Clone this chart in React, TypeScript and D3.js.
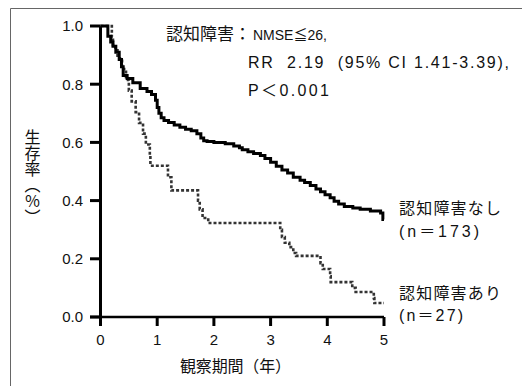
import React from 'react';
import * as d3 from 'd3';

// 認知障害なし (n=173): time of each step (years) and survival after it
const timeNone = [0, 0.13, 0.18, 0.22, 0.27, 0.33, 0.37, 0.4, 0.47, 0.57, 0.7, 0.82, 0.9, 0.97, 1.0, 1.03, 1.07, 1.12, 1.2, 1.3, 1.4, 1.5, 1.6, 1.7, 1.77, 1.82, 1.88, 2.0, 2.2, 2.35, 2.45, 2.5, 2.6, 2.7, 2.82, 2.9, 3.0, 3.1, 3.2, 3.3, 3.4, 3.52, 3.6, 3.7, 3.8, 3.88, 3.96, 4.05, 4.12, 4.2, 4.3, 4.45, 4.58, 4.76, 4.94, 4.98, 5.0];
const survNone = [1.0, 0.965, 0.945, 0.93, 0.91, 0.885, 0.86, 0.83, 0.82, 0.805, 0.785, 0.775, 0.765, 0.745, 0.72, 0.7, 0.685, 0.675, 0.668, 0.66, 0.652, 0.645, 0.64, 0.63, 0.615, 0.606, 0.603, 0.6, 0.595, 0.588, 0.582, 0.575, 0.568, 0.562, 0.555, 0.545, 0.532, 0.518, 0.505, 0.495, 0.48, 0.47, 0.462, 0.452, 0.44, 0.43, 0.42, 0.41, 0.398, 0.388, 0.38, 0.375, 0.37, 0.364, 0.357, 0.335, 0.335];

// 認知障害あり (n=27)
const timeImp = [0, 0.2, 0.22, 0.3, 0.38, 0.45, 0.5, 0.55, 0.62, 0.68, 0.75, 0.8, 0.87, 0.88, 1.19, 1.25, 1.72, 1.75, 1.8, 1.9, 3.17, 3.2, 3.25, 3.33, 3.4, 3.45, 3.88, 3.92, 4.05, 4.06, 4.44, 4.5, 4.82, 4.83, 5.0];
const survImp = [1.0, 0.963, 0.926, 0.889, 0.852, 0.815, 0.778, 0.741, 0.704, 0.667, 0.63, 0.593, 0.556, 0.52, 0.48, 0.435, 0.4, 0.37, 0.34, 0.323, 0.3, 0.275, 0.255, 0.24, 0.22, 0.21, 0.185, 0.165, 0.14, 0.12, 0.1, 0.086, 0.065, 0.048, 0.048];

const xTicks = [0, 1, 2, 3, 4, 5];
const yTicks = [0, 0.2, 0.4, 0.6, 0.8, 1.0];

const font = '"Liberation Sans", "Noto Sans CJK JP", sans-serif';

const App = () => {
	const x = d3.scaleLinear().domain([0, 5]).range([100.5, 384]);
	const y = d3.scaleLinear().domain([0, 1]).range([317, 26]);
	const line = d3.line<[number, number]>()
		.x((d) => x(d[0]))
		.y((d) => y(d[1]))
		.curve(d3.curveStepAfter);
	const none = line(timeNone.map((t, i) => [t, survNone[i]]));
	const imp = line(timeImp.map((t, i) => [t, survImp[i]]));

	return (
		<svg width={ 522 } height={ 386 } style={ { position: 'absolute', left: 0, top: 0, background: '#fff' } }
			fontFamily={ font } fill="#111">
			{/* frame */}
			<path d="M10.5,386 V8.5 H522" fill="none" stroke="#666" strokeWidth={ 1 }/>

			{/* axes */}
			<line x1={ x(0) } x2={ x(0) } y1={ y(1) } y2={ y(0) } stroke="#000" strokeWidth={ 3 }/>
			<line x1={ 90 } x2={ x(5) } y1={ y(0) } y2={ y(0) } stroke="#000" strokeWidth={ 2.5 }/>
			{ yTicks.map((v) => (
				<g key={ v }>
					<line x1={ 90 } x2={ x(0) } y1={ y(v) } y2={ y(v) } stroke="#000" strokeWidth={ 3 }/>
					<text x={ 83 } y={ y(v) } dy="0.36em" textAnchor="end" fontSize={ 15 }>{ v.toFixed(1) }</text>
				</g>
			)) }
			{ xTicks.map((t) => (
				<g key={ t }>
					<line x1={ x(t) } x2={ x(t) } y1={ y(0) } y2={ y(0) + 9 } stroke="#000" strokeWidth={ 3 }/>
					<text x={ x(t) } y={ 340 } dy="0.36em" textAnchor="middle" fontSize={ 15 }>{ t }</text>
				</g>
			)) }

			{/* curves */}
			<path d={ imp ?? '' } fill="none" stroke="#333" strokeWidth={ 2.6 } strokeDasharray="3 2"/>
			<path d={ none ?? '' } fill="none" stroke="#000" strokeWidth={ 3 }/>

			{/* annotation */}
			<text x={ 166 } y={ 34 } dy="0.36em" fontSize={ 17 }>
				<tspan>認知障害：</tspan>
				<tspan x={ 253 } fontSize={ 14 }>NMSE≦26,</tspan>
			</text>
			<text x={ 248 } y={ 62 } dy="0.36em" fontSize={ 16 } textLength={ 261 } lengthAdjust="spacing" style={ { whiteSpace: 'pre' } }>RR  2.19  (95% CI 1.41-3.39),</text>
			<text x={ 248 } y={ 90 } dy="0.36em" fontSize={ 16 } textLength={ 81 } lengthAdjust="spacing">P＜0.001</text>

			{/* y label, vertical */}
			<text x={ 31 } y={ 129 } fontSize={ 16 } style={ { writingMode: 'vertical-rl' } }>生存率（％）</text>

			{/* x label */}
			<text x={ 180 } y={ 366 } dy="0.36em" fontSize={ 16 } textLength={ 111 } lengthAdjust="spacing">観察期間（年）</text>

			{/* series labels */}
			<text x={ 399 } y={ 208 } dy="0.36em" fontSize={ 16 } textLength={ 102 } lengthAdjust="spacing">認知障害なし</text>
			<text x={ 399 } y={ 231 } dy="0.36em" fontSize={ 16 } textLength={ 80 } lengthAdjust="spacing">(n＝173)</text>
			<text x={ 399 } y={ 293 } dy="0.36em" fontSize={ 16 } textLength={ 102 } lengthAdjust="spacing">認知障害あり</text>
			<text x={ 399 } y={ 315 } dy="0.36em" fontSize={ 16 } textLength={ 64 } lengthAdjust="spacing">(n＝27)</text>
		</svg>
	);
};

export default App;
